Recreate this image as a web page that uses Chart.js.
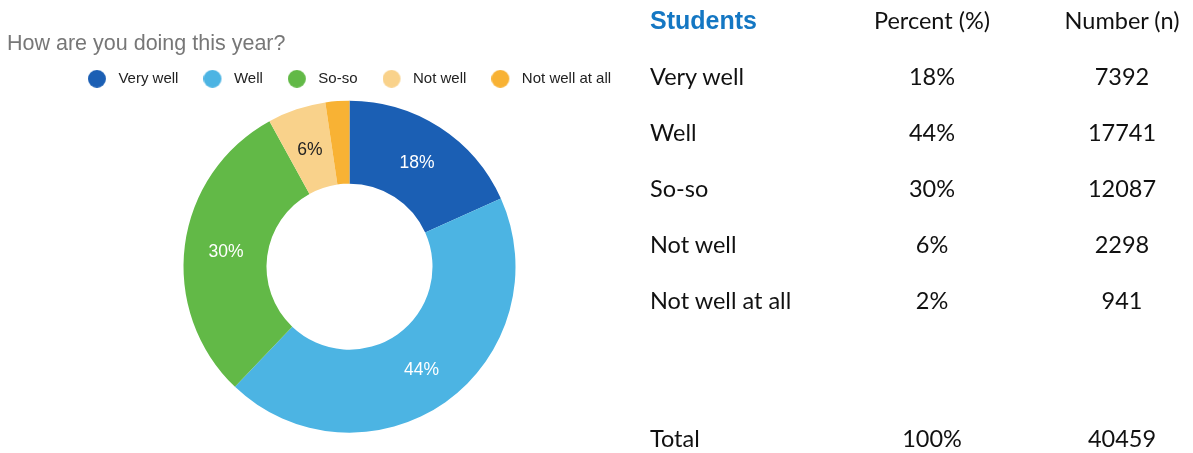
<!DOCTYPE html>
<html>
<head>
<meta charset="utf-8">
<script src="https://cdn.jsdelivr.net/npm/chart.js@4/dist/chart.umd.min.js"></script>
<style>
	body { margin: 0; background: #fff; overflow: hidden; width: 1193px; height: 453px; position: relative; }
	#chartBox { position: absolute; left: 0; top: 0; }
	#taula { position: absolute; left: 650px; top: -8px; font-family: Lato, "Open Sans", sans-serif; font-size: 23.5px; color: #111; }
	.fila { display: grid; grid-template-columns: 182px 200px 180px; height: 56px; line-height: 56px; }
	.fila div:nth-child(2), .fila div:nth-child(3) { text-align: center; }
	.cap div:first-child { font-family: "Liberation Sans", Arial, sans-serif; font-weight: bold; font-size: 25px; color: #1477c3; }
	.total { margin-top: 82px; }
</style>
</head>
<body>
<div id="chartBox"><canvas id="myChart" width="699" height="453"></canvas></div>
<div id="taula"></div>

<script>
// Dades
const titol = 'How are you doing this year?';
const categories = ['Very well', 'Well', 'So-so', 'Not well', 'Not well at all'];
const percents = [18, 44, 30, 6, 2];
const counts = [7392, 17741, 12087, 2298, 941];
const capcaleres = ['Students', 'Percent (%)', 'Number (n)'];
const totalLabel = 'Total';
const totalPercent = 100;
const totalCount = 40459;

// colors de cada tros
const sliceColors = ['#1b5fb4', '#4cb4e3', '#62b947', '#f9d28b', '#f8b234'];

// taula de la dreta
function printTaula() {
	let html = '<div class="fila cap">';
	capcaleres.forEach((c) => { html += `<div>${c}</div>`; });
	html += '</div>';
	categories.forEach((cat, i) => {
		html += '<div class="fila">';
		html += `<div>${cat}</div><div>${percents[i]}%</div><div>${counts[i]}</div>`;
		html += '</div>';
	});
	html += `<div class="fila total"><div>${totalLabel}</div><div>${totalPercent}%</div><div>${totalCount}</div></div>`;
	document.getElementById('taula').innerHTML = html;
}

// cercle per la llegenda
function makeDot(color) {
	const c = document.createElement('canvas');
	c.width = 23;
	c.height = 18;
	const g = c.getContext('2d');
	g.fillStyle = color;
	g.beginPath();
	g.arc(9, 9, 9, 0, Math.PI * 2);
	g.fill();
	return c;
}
const dots = sliceColors.map(makeDot);

// percentatges dins dels trossos
const sliceLabels = {
	id: 'sliceLabels',
	afterDatasetsDraw(chart) {
		const ctx = chart.ctx;
		const arcs = chart.getDatasetMeta(0).data;
		const size = 17.5;
		ctx.save();
		ctx.font = size + 'px "Liberation Sans", Arial, sans-serif';
		ctx.textAlign = 'center';
		ctx.textBaseline = 'alphabetic';
		arcs.forEach((arc, i) => {
			if (percents[i] < 5) return;
			const pos = arc.tooltipPosition();
			ctx.fillStyle = i === 3 ? '#222' : '#fff';
			ctx.fillText(percents[i] + '%', pos.x, pos.y + size * 0.358);
		});
		ctx.restore();
	}
};

function pokeChart() {
	const data = {
		labels: categories,
		datasets: [{
			data: counts,
			backgroundColor: sliceColors,
			borderWidth: 0,
			radius: 166,
			cutout: '50%'
		}]
	};

	const config = {
		type: 'doughnut',
		data: data,
		plugins: [sliceLabels],
		options: {
			responsive: false,
			animation: false,
			layout: { padding: { left: 7, right: 7, top: 0, bottom: 16 } },
			plugins: {
				title: {
					display: true,
					text: titol,
					align: 'start',
					color: '#777',
					font: { family: '"Liberation Sans", Arial, sans-serif', size: 21.5, weight: 'normal', lineHeight: 0.2 },
					padding: { top: 42, bottom: 0 }
				},
				legend: {
					position: 'top',
					labels: {
						color: '#222',
						font: { family: '"Liberation Sans", Arial, sans-serif', size: 15 },
						usePointStyle: true,
						pointStyleWidth: 23,
						boxHeight: 15,
						padding: 25,
						generateLabels(chart) {
							const items = Chart.overrides.doughnut.plugins.legend.labels.generateLabels(chart);
							items.forEach((it, i) => { it.pointStyle = dots[i]; });
							return items;
						}
					}
				},
				tooltip: { enabled: false }
			}
		}
	};

	new Chart(document.getElementById('myChart'), config);
}

printTaula();
pokeChart();
</script>
</body>
</html>
